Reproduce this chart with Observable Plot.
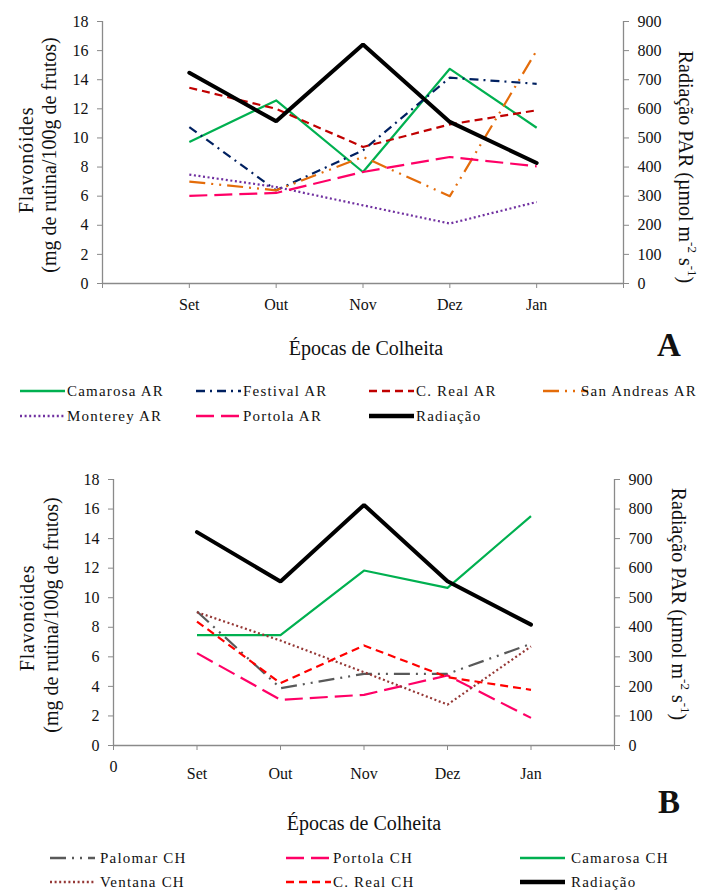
<!DOCTYPE html>
<html><head><meta charset="utf-8">
<script src="https://cdn.jsdelivr.net/npm/d3@7"></script>
<script src="https://cdn.jsdelivr.net/npm/@observablehq/plot@0.6"></script>
<style>
body{margin:0;background:#fff;font-family:"Liberation Serif",Tinos,"Times New Roman","DejaVu Serif",serif;color:#111}
#wrap{position:relative;width:706px;height:890px;overflow:hidden}
.panel{position:absolute;left:0}
.item{position:absolute;height:20px;white-space:nowrap;font-size:15px;letter-spacing:1.2px;line-height:20px}
.item svg{position:absolute;top:0}
</style></head><body><div id="wrap"></div>
<script>
// ---------- DATA ----------
const months = ["Set","Out","Nov","Dez","Jan"];
const leftTicks = [0,2,4,6,8,10,12,14,16,18];
const radTicks = [0,100,200,300,400,500,600,700,800,900];

// Panel A (flavonoids, mg rutina/100 g frutos)
const camarosaAR   = [9.72, 12.58, 7.66, 14.75, 10.7];
const festivalAR   = [10.75, 6.4, 9.15, 14.14, 13.72];
const cRealAR      = [13.45, 12.0, 9.38, 10.93, 11.9];
const sanAndreasAR = [7.0, 6.4, 8.7, 6.0, 16.0];
const montereyAR   = [7.48, 6.63, 5.37, 4.12, 5.6];
const portolaAR    = [6.02, 6.22, 7.66, 8.69, 8.05];
const radiacaoA    = [724, 557, 821, 555, 414];

// Panel B
const palomarCH    = [9.07, 3.88, 4.85, 4.85, 6.88];
const portolaCH    = [6.25, 3.09, 3.43, 4.74, 1.87];
const camarosaCH   = [7.47, 7.47, 11.84, 10.67, 15.52];
const ventanaCH    = [9.02, 7.1, 4.96, 2.77, 6.7];
const cRealCH      = [8.39, 4.22, 6.77, 4.62, 3.77];
const radiacaoB    = [722, 555, 814, 556, 409];

// ---------- STYLES ----------
const FONT = '"Liberation Serif",Tinos,"Times New Roman","DejaVu Serif",serif';
const seriesA = [
  {name:"Camarosa AR", values:camarosaAR, color:"#00b050", dash:null},
  {name:"Festival AR", values:festivalAR, color:"#002060", dash:"9,5,2,5"},
  {name:"C. Real AR", values:cRealAR, color:"#c00000", dash:"8,5"},
  {name:"San Andreas AR", values:sanAndreasAR, color:"#e46c0a", dash:"16,6,2,6,2,6"},
  {name:"Monterey AR", values:montereyAR, color:"#7030a0", dash:"2,2.6"},
  {name:"Portola AR", values:portolaAR, color:"#ff0066", dash:"18,7"},
];
const seriesB = [
  {name:"Palomar CH", values:palomarCH, color:"#595959", dash:"16,6,2,6,2,6"},
  {name:"Portola CH", values:portolaCH, color:"#ff0066", dash:"18,7"},
  {name:"Camarosa CH", values:camarosaCH, color:"#00b050", dash:null},
  {name:"Ventana CH", values:ventanaCH, color:"#953735", dash:"2,2.6"},
  {name:"C. Real CH", values:cRealCH, color:"#ff0000", dash:"8,5"},
];
const axisColor = "#8a8a8a";
const TICKFS = 16, TITLEFS = 20;

function rows(values){ return values.map((v,i)=>({x:i+1, y:v})); }

function makePanel(series, rad, cfg){
  const marks = [
    Plot.ruleY([0],{stroke:axisColor, strokeWidth:1.3}),
    Plot.ruleX([0],{stroke:axisColor, strokeWidth:1.3}),
    Plot.ruleX([6],{stroke:axisColor, strokeWidth:1.3}),
    Plot.axisY({anchor:"left", ticks:leftTicks, tickSize:5, tickPadding:9, stroke:axisColor, fill:"#111", fontSize:TICKFS, label:null}),
    Plot.axisY({anchor:"right", ticks:leftTicks, tickSize:5, tickPadding:9, stroke:axisColor, fill:"#111", fontSize:TICKFS, label:null,
      tickFormat:(d)=>String(radTicks[leftTicks.indexOf(d)])}),
    Plot.axisX({ticks:[0,1,2,3,4,5,6], tickSize:5, stroke:axisColor, tickFormat:()=>"", label:null}),
    Plot.axisX({ticks:[1,2,3,4,5], tickSize:0, tickPadding:cfg.labelPad, fill:"#111", fontSize:TICKFS, label:null,
      tickFormat:(d)=>months[d-1]})
  ];
  if (cfg.zeroLabel) marks.push(Plot.axisX({ticks:[0], tickSize:0, tickPadding:cfg.zeroPad, fill:"#111", fontSize:TICKFS, label:null, tickFormat:(d)=>String(d)}));
  series.forEach(s=>{
    marks.push(Plot.line(rows(s.values),{x:"x", y:"y", stroke:s.color, strokeWidth:2.2, strokeDasharray:s.dash, strokeLinecap:"butt"}));
  });
  // radiation plotted on the right axis (0-900 mapped onto 0-18)
  marks.push(Plot.line(rows(rad.map(v=>v/50)),{x:"x", y:"y", stroke:"#000", strokeWidth:4, strokeLinejoin:"miter"}));
  const svg = Plot.plot({
    width:706, height:cfg.height,
    marginLeft:cfg.ml, marginRight:cfg.mr, marginTop:cfg.mt, marginBottom:cfg.mb,
    style:{fontFamily:FONT, background:"#fff", overflow:"visible"},
    x:{type:"linear", domain:[0,6], axis:null},
    y:{type:"linear", domain:[0,18], axis:null},
    marks
  });
  const s = d3.select(svg);
  const txt = (sel)=>sel.attr("font-family",FONT).attr("fill","#111");
  // left axis title
  txt(s.append("text")).attr("transform",`translate(${cfg.lt1x},${cfg.lt1cy}) rotate(-90)`).attr("text-anchor","middle").attr("dominant-baseline","central").attr("font-size",TITLEFS).attr("letter-spacing",0.8).text("Flavonóides");
  txt(s.append("text")).attr("transform",`translate(${cfg.lt2x},${cfg.lt2cy}) rotate(-90)`).attr("text-anchor","middle").attr("dominant-baseline","central").attr("font-size",TITLEFS).text("(mg de rutina/100g de frutos)");
  // right axis title
  const rt = txt(s.append("text")).attr("transform",`translate(${cfg.rtx},${cfg.rtcy}) rotate(90)`).attr("text-anchor","middle").attr("dominant-baseline","central").attr("font-size",TITLEFS);
  rt.append("tspan").text("Radiação PAR (µmol m");
  rt.append("tspan").attr("font-size",13).attr("dy",-7).text("-2");
  rt.append("tspan").attr("dy",7).text(" s");
  rt.append("tspan").attr("font-size",13).attr("dy",-7).text("-1");
  rt.append("tspan").attr("dy",7).text(")");
  // x title
  txt(s.append("text")).attr("x",cfg.xtx).attr("y",cfg.xty).attr("text-anchor","middle").attr("dominant-baseline","central").attr("font-size",TITLEFS).text("Épocas de Colheita");
  // panel letter
  txt(s.append("text")).attr("x",669).attr("y",cfg.lety).attr("text-anchor","middle").attr("dominant-baseline","central").attr("font-size",33).attr("font-weight","bold").text(cfg.letter);
  return svg;
}

function legend(parent, series, cols, rowsY, lineX, textX){
  series.forEach((s,i)=>{
    const r = Math.floor(i/cols), c = i%cols;
    const el = document.createElement("div");
    el.className="item";
    el.style.left = lineX[c]+"px";
    el.style.top = (rowsY[r]-10)+"px";
    const ns="http://www.w3.org/2000/svg";
    const sv = document.createElementNS(ns,"svg");
    sv.setAttribute("width",46); sv.setAttribute("height",20);
    const ln = document.createElementNS(ns,"line");
    ln.setAttribute("x1",0); ln.setAttribute("x2",45); ln.setAttribute("y1",10); ln.setAttribute("y2",10);
    ln.setAttribute("stroke",s.color); ln.setAttribute("stroke-width",s.width||2.4);
    if (s.dash) ln.setAttribute("stroke-dasharray",s.dash);
    sv.appendChild(ln); el.appendChild(sv);
    const t = document.createElement("span");
    t.style.position="absolute"; t.style.left=(textX[c]-lineX[c])+"px";
    t.textContent = s.name; el.appendChild(t);
    parent.appendChild(el);
  });
}

const wrap = document.getElementById("wrap");
const pA = document.createElement("div"); pA.className="panel"; pA.style.top="0px";
pA.appendChild(makePanel(seriesA, radiacaoA, {height:365, ml:102, mr:83, mt:21, mb:82, labelPad:15, lt1x:26, lt1cy:160, lt2x:49, lt2cy:155, rtx:686, rtcy:167, xtx:366, xty:348, lety:345, letter:"A"}));
wrap.appendChild(pA);
const pB = document.createElement("div"); pB.className="panel"; pB.style.top="440px";
pB.appendChild(makePanel(seriesB, radiacaoB, {height:400, ml:113, mr:92, mt:39, mb:95, labelPad:22, zeroLabel:true, zeroPad:15, lt1x:27, lt1cy:178, lt2x:51, lt2cy:175, rtx:679, rtcy:164, xtx:364, xty:383, lety:362, letter:"B"}));
wrap.appendChild(pB);

const radItem = {name:"Radiação", color:"#000", dash:null, width:4.5};
legend(wrap, [...seriesA, radItem], 4, [391,416], [20,196,369,543], [67,243,416,581]);
legend(wrap, [...seriesB, radItem], 3, [858,882], [50,286,520], [100,333,571]);
</script></body></html>
